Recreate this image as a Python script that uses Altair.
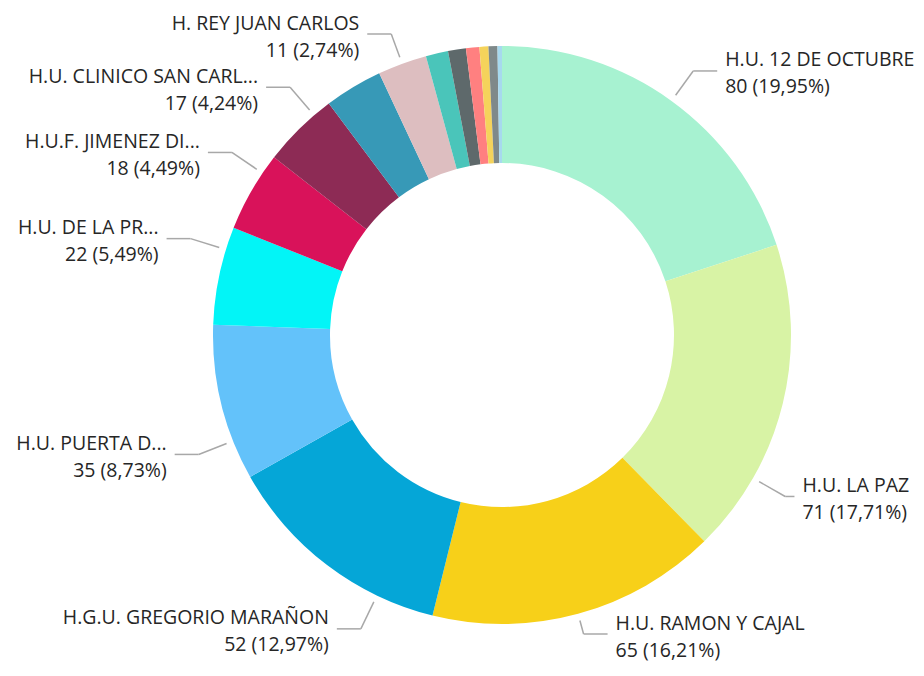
import altair as alt
import pandas as pd

# ---- data ----
categories = [
    "H.U. 12 DE OCTUBRE", "H.U. LA PAZ", "H.U. RAMON Y CAJAL", "H.G.U. GREGORIO MARAÑON",
    "H.U. PUERTA D...", "H.U. DE LA PR...", "H.U.F. JIMENEZ DI...", "H.U. CLINICO SAN CARL...",
    "Otros 1", "H. REY JUAN CARLOS", "Otros 2", "Otros 3", "Otros 4", "Otros 5", "Otros 6", "Otros 7",
]
values = [80, 71, 65, 52, 35, 22, 18, 17, 13, 11, 5, 4, 3, 2, 2, 1]
label_names = [
    "H.U. 12 DE OCTUBRE", "H.U. LA PAZ", "H.U. RAMON Y CAJAL", "H.G.U. GREGORIO MARAÑON",
    "H.U. PUERTA D...", "H.U. DE LA PR...", "H.U.F. JIMENEZ DI...", "H.U. CLINICO SAN CARL...",
    "", "H. REY JUAN CARLOS", "", "", "", "", "", "",
]
colors = [
    "#A7F2D1", "#D8F3A5", "#F7D019", "#05A6D7", "#63C2FA", "#02F5F7", "#D9125A", "#8D2B55",
    "#3799B7", "#DDBEC0", "#4AC5BA", "#5E696B", "#FF8080", "#F5D35B", "#7F898A", "#A7D9EE",
]

total = sum(values)
value_text = [f"{v} ({v / total * 100:.2f}%)".replace(".", ",") for v in values]

# label placement tweaks (degrees along the ring), like the original's label layout
label_nudge_deg = {
    "H.U. LA PAZ": 16.0,
    "H.G.U. GREGORIO MARAÑON": -11.6,
    "H.U. PUERTA D...": -7.8,
    "H.U. DE LA PR...": 5.3,
    "H.U.F. JIMENEZ DI...": 4.2,
    "H.U. CLINICO SAN CARL...": 3.9,
}

df = pd.DataFrame({
    "category": categories,
    "value": values,
    "order": list(range(len(values))),
    "name": label_names,
    "vtext": value_text,
    "nudge": [label_nudge_deg.get(n, 0.0) for n in label_names],
})

# ---- layout ----
W, H = 908, 654
CX, CY = 494, 327
R_OUT, R_IN = 289, 172
R_START, R_ELBOW = 296, 326
ARM, GAP = 24, 8
Y_BOTTOM = H - 28  # keep two-line labels inside the chart
Y_TOP = 26
FONT = "Open Sans"
FS = 19.5
CHAR_W = 0.52 * FS  # rough average glyph width, to keep right-side labels inside
TXT = "#262626"
LINE = "#A8A8A8"

base = alt.Chart(df)

arcs = base.mark_arc(innerRadius=R_IN, outerRadius=R_OUT, stroke=None).encode(
    theta=alt.Theta("value:Q", stack=True),
    order=alt.Order("order:Q", sort="ascending"),
    color=alt.Color("category:N", scale=alt.Scale(domain=categories, range=colors), legend=None),
    x=alt.value(CX),
    y=alt.value(CY),
)

lab = (
    base.transform_joinaggregate(total="sum(value)")
    .transform_window(cum="sum(value)", sort=[alt.SortField("order")], frame=[None, 0])
    .transform_filter("datum.name != ''")
    .transform_calculate(ang="(datum.cum - datum.value / 2) / datum.total * 2 * PI + datum.nudge * PI / 180")
    .transform_calculate(side="sin(datum.ang) >= 0 ? 1 : -1")
    .transform_calculate(
        re=(
            f"cos(datum.ang) < 0 ? max({R_START} + 8, min({R_ELBOW}, ({Y_BOTTOM} - {CY}) / (-cos(datum.ang))))"
            f" : max({R_START} + 8, min({R_ELBOW}, ({CY} - {Y_TOP}) / max(cos(datum.ang), 0.001)))"
        )
    )
    .transform_calculate(px1=f"{CX} + {R_START} * sin(datum.ang)")
    .transform_calculate(py1=f"{CY} - {R_START} * cos(datum.ang)")
    .transform_calculate(px2=f"{CX} + datum.re * sin(datum.ang)")
    .transform_calculate(py2=f"{CY} - datum.re * cos(datum.ang)")
    .transform_calculate(txw=f"max(length(datum.name), length(datum.vtext)) * {CHAR_W}")
    .transform_calculate(
        tx=f"datum.side > 0 ? min(datum.px2 + {ARM} + {GAP}, {W} - 2 - datum.txw) : datum.px2 - {ARM} - {GAP}"
    )
    .transform_calculate(px3=f"datum.tx - datum.side * {GAP}")
    .transform_calculate(ny="datum.py2 - 4.5")
    .transform_calculate(vy="datum.py2 + 22.5")
)

seg1 = lab.mark_rule(color=LINE, strokeWidth=1.5).encode(
    x=alt.X("px1:Q", scale=None, axis=None),
    y=alt.Y("py1:Q", scale=None, axis=None),
    x2="px2:Q",
    y2="py2:Q",
)
seg2 = lab.mark_rule(color=LINE, strokeWidth=1.5).encode(
    x=alt.X("px2:Q", scale=None, axis=None),
    y=alt.Y("py2:Q", scale=None, axis=None),
    x2="px3:Q",
    y2="py2:Q",
)


def side_texts(side, align):
    s = lab.transform_filter(f"datum.side == {side}")
    t_name = s.mark_text(align=align, baseline="alphabetic", font=FONT, fontSize=FS, color=TXT).encode(
        x=alt.X("tx:Q", scale=None, axis=None),
        y=alt.Y("ny:Q", scale=None, axis=None),
        text="name:N",
    )
    t_val = s.mark_text(align=align, baseline="alphabetic", font=FONT, fontSize=FS, color=TXT).encode(
        x=alt.X("tx:Q", scale=None, axis=None),
        y=alt.Y("vy:Q", scale=None, axis=None),
        text="vtext:N",
    )
    return [t_name, t_val]


layers = [arcs, seg1, seg2] + side_texts(1, "left") + side_texts(-1, "right")

chart = (
    alt.layer(*layers)
    .properties(width=W, height=H, padding=0, autosize="none", background="white")
    .configure_view(stroke=None)
)

chart.save("out.html", embed_options={"renderer": "svg", "actions": False})
